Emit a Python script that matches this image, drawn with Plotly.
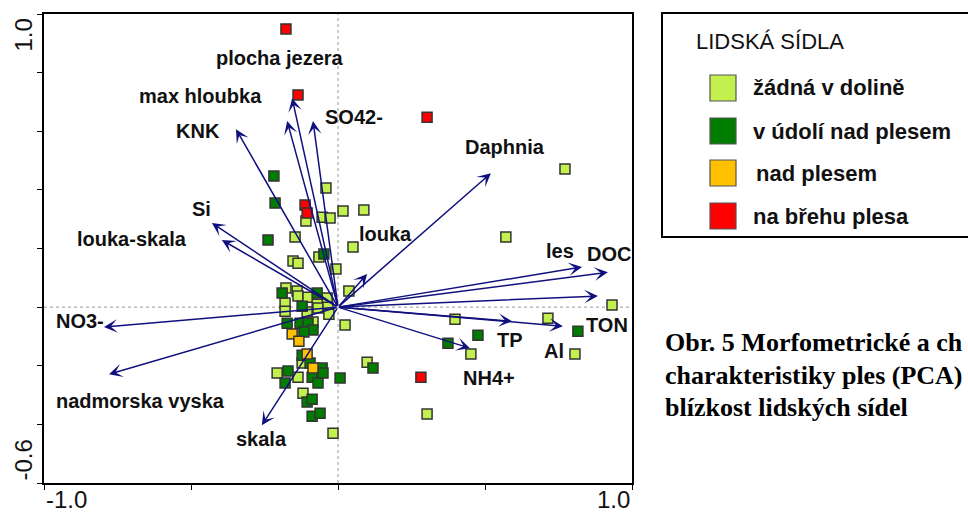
import plotly.graph_objects as go

# ---- Site scores (PCA axis 1, axis 2), grouped by settlement category ----
zadna_x = [0.772, -0.041, 0.017, 0.088, -0.054, -0.027, -0.109, 0.571, 0.051, -0.146,
           -0.153, -0.136, -0.065, -0.007, -0.177, -0.139, -0.136, -0.102, -0.037, 0.037,
           -0.180, -0.071, -0.068, -0.034, -0.031, -0.180, -0.105, -0.085, 0.024, -0.122,
           -0.207, -0.136, -0.119, -0.017, 0.099, 0.398, 0.452, 0.714, 0.806, 0.932, 0.303]
zadna_y = [0.471, 0.406, 0.328, 0.331, 0.307, 0.304, 0.294, 0.239, 0.205, 0.239,
           0.157, 0.150, 0.171, 0.130, 0.065, 0.055, 0.038, 0.034, 0.031, 0.055,
           0.014, 0.010, -0.003, 0.000, -0.024, -0.014, -0.017, -0.051, -0.061, -0.191,
           -0.225, -0.239, -0.294, -0.430, -0.188, -0.041, -0.160, -0.038, -0.160, 0.007, -0.365]

udoli_x = [-0.218, -0.214, -0.238, -0.048, -0.190, -0.071, -0.122, -0.173, -0.129, -0.102,
           -0.085, -0.116, -0.122, -0.095, -0.170, -0.180, -0.054, -0.051, -0.088, -0.068,
           0.007, 0.119, -0.105, -0.088, -0.088, -0.061, 0.476, 0.374, 0.816]
udoli_y = [0.447, 0.355, 0.229, 0.181, 0.048, 0.048, 0.003, -0.055, -0.055, -0.055,
           -0.078, -0.085, -0.164, -0.191, -0.218, -0.259, -0.208, -0.225, -0.239, -0.259,
           -0.242, -0.208, -0.324, -0.314, -0.372, -0.362, -0.096, -0.123, -0.082]

nad_x = [-0.156, -0.133, -0.105, -0.085]
nad_y = [-0.092, -0.116, -0.160, -0.208]

breh_x = [-0.177, -0.136, 0.303, -0.112, -0.105, 0.282]
breh_y = [0.949, 0.724, 0.648, 0.348, 0.321, -0.239]

# ---- Environmental variable loadings (arrow tips) ----
var_names = ["KNK", "max hloubka", "plocha jezera", "SO42-", "Daphnia", "Si",
             "louka-skala", "louka", "les", "DOC", "TON", "NO3-",
             "nadmorska vyska", "skala", "TP", "Al", "NH4+"]
var_x = [-0.347, -0.156, -0.173, -0.085, 0.520, -0.429,
         -0.395, 0.099, 0.830, 0.918, 0.884, -0.796,
         -0.779, -0.259, 0.592, 0.765, 0.449]
var_y = [0.607, 0.713, 0.635, 0.635, 0.457, 0.287,
         0.229, 0.113, 0.137, 0.119, 0.038, -0.068,
         -0.229, -0.403, -0.048, -0.065, -0.140]
# where each variable name is written
label_x = [-0.476, -0.469, -0.197, 0.054, 0.568, -0.463,
           -0.701, 0.160, 0.755, 0.922, 0.915, -0.878,
           -0.673, -0.259, 0.585, 0.735, 0.514]
label_y = [0.601, 0.720, 0.850, 0.648, 0.546, 0.334,
           0.232, 0.249, 0.190, 0.180, -0.061, -0.048,
           -0.321, -0.451, -0.113, -0.150, -0.242]

categories = ["žádná v dolině", "v údolí nad plesem", "nad plesem", "na břehu plesa"]
colors = ["#c2f04e", "#007d00", "#ffc000", "#ff0000"]
legend_title = "LIDSKÁ SÍDLA"
caption_lines = ["Obr. 5 Morfometrické a ch",
                 "charakteristiky ples (PCA)",
                 "blízkost lidských sídel"]

W, H = 968, 516
ML, MR, MT, MB = 44, 336, 14, 33
PW, PH = W - ML - MR, H - MT - MB


def px(xp):
    return (xp - ML) / PW


def py(yp):
    return (H - MB - yp) / PH


fig = go.Figure()

groups = [(zadna_x, zadna_y), (udoli_x, udoli_y), (nad_x, nad_y), (breh_x, breh_y)]
for (gx, gy), name, col in zip(groups, categories, colors):
    fig.add_trace(go.Scatter(
        x=gx, y=gy, mode="markers", name=name, showlegend=False,
        marker=dict(symbol="square", size=10, color=col,
                    line=dict(color="#333333", width=1.5)),
        hoverinfo="skip"))

arrow_col = "#10107e"
annotations = []
for name, vx, vy, lx, ly in zip(var_names, var_x, var_y, label_x, label_y):
    annotations.append(dict(
        x=vx, y=vy, ax=0, ay=0, xref="x", yref="y", axref="x", ayref="y",
        text="", showarrow=True, arrowhead=3, arrowsize=1.5, arrowwidth=1.5,
        arrowcolor=arrow_col, standoff=0, startstandoff=0))
    annotations.append(dict(
        x=lx, y=ly, xref="x", yref="y", text=name, showarrow=False,
        xanchor="center", yanchor="middle",
        font=dict(family="Liberation Sans, Arial", size=20, color="#111111", weight="bold")))

# axis end labels
tick_font = dict(family="Liberation Sans, Arial", size=24, color="#111111")
annotations += [
    dict(x=0, y=py(500), xref="paper", yref="paper", text="-1.0", showarrow=False,
         xanchor="left", yanchor="middle", font=tick_font),
    dict(x=1, y=py(500), xref="paper", yref="paper", text="1.0", showarrow=False,
         xanchor="right", yanchor="middle", font=tick_font),
    dict(x=px(23), y=py(17), xref="paper", yref="paper", text="1.0", showarrow=False,
         xanchor="center", yanchor="top", textangle=-90, font=tick_font),
    dict(x=px(23), y=0, xref="paper", yref="paper", text="-0.6", showarrow=False,
         xanchor="center", yanchor="bottom", textangle=-90, font=tick_font),
]

shapes = [
    dict(type="line", xref="x", yref="y", x0=0, x1=0, y0=-0.6, y1=1.0,
         line=dict(color="#9a9a9a", width=1, dash="dot"), layer="below"),
    dict(type="line", xref="x", yref="y", x0=-1, x1=1, y0=0, y1=0,
         line=dict(color="#9a9a9a", width=1, dash="dot"), layer="below"),
    # legend frame
    dict(type="rect", xref="paper", yref="paper", x0=px(662), x1=px(990),
         y0=py(237), y1=py(13), line=dict(color="black", width=2), fillcolor="white"),
]

annotations.append(dict(
    x=px(694), y=py(42), xref="paper", yref="paper", text=legend_title, showarrow=False,
    xanchor="left", yanchor="middle",
    font=dict(family="Liberation Sans, Arial", size=22, color="#111111")))

item_y = [88, 131, 173, 216]
item_x = [751, 751, 754, 751]
for name, col, iy, ix in zip(categories, colors, item_y, item_x):
    shapes.append(dict(type="rect", xref="paper", yref="paper",
                       x0=px(710), x1=px(736), y0=py(iy + 13), y1=py(iy - 13),
                       line=dict(color="#555555", width=1.2), fillcolor=col))
    annotations.append(dict(
        x=px(ix), y=py(iy), xref="paper", yref="paper", text=name, showarrow=False,
        xanchor="left", yanchor="middle",
        font=dict(family="Liberation Sans, Arial", size=22, color="#111111", weight="bold")))

for line, cy in zip(caption_lines, [342, 375, 407]):
    annotations.append(dict(
        x=px(663), y=py(cy), xref="paper", yref="paper", text=line, showarrow=False,
        xanchor="left", yanchor="middle",
        font=dict(family="Liberation Serif, Times New Roman", size=26, color="#000000",
                  weight="bold")))

axis_common = dict(showgrid=False, zeroline=False, showline=True, mirror=True,
                   linecolor="black", linewidth=1.5, ticks="outside", ticklen=5,
                   tickwidth=1, tickcolor="black", showticklabels=False, fixedrange=True)

fig.update_layout(
    width=W, height=H,
    margin=dict(l=ML, r=MR, t=MT, b=MB, pad=0),
    paper_bgcolor="white", plot_bgcolor="white",
    xaxis=dict(range=[-1.0, 1.0], tickvals=[-1.0, -0.5, 0.0, 0.5, 1.0], **axis_common),
    yaxis=dict(range=[-0.6, 1.0], tickvals=[-0.6, -0.4, -0.2, 0.0, 0.2, 0.4, 0.6, 0.8, 1.0],
               **axis_common),
    shapes=shapes, annotations=annotations, showlegend=False,
)

fig.write_html("out.html")
